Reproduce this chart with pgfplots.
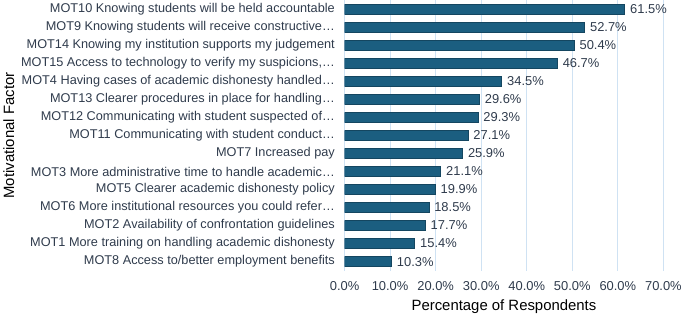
\documentclass[border=0pt]{standalone}
\usepackage{pgfplots}
\pgfplotsset{compat=1.18}
\usepackage{fontspec}
\setmainfont{Liberation Sans}
\definecolor{barc}{HTML}{1B5E80}
\definecolor{gridc}{HTML}{CFE2F3}
\definecolor{txt}{HTML}{2F3B4C}
\begin{document}
\begin{tikzpicture}
\begin{axis}[
  scale only axis, width=321pt, height=272pt,
  xbar, bar width=10pt,
  xmin=0, xmax=70, ymin=-0.5, ymax=14.5,
  xtick={0,10,...,70},
  /pgf/number format/assume math mode=true,
  xticklabel={\pgfmathprintnumber[fixed,fixed zerofill,precision=1]{\tick}\%},
  ytick={0,...,14},
  yticklabels={
    MOT8 Access to/better employment benefits,
    MOT1 More training on handling academic dishonesty,
    MOT2 Availability of confrontation guidelines,
    MOT6 More institutional resources you could refer\ldots,
    MOT5 Clearer academic dishonesty policy,
    MOT3 More administrative time to handle academic\ldots,
    MOT7 Increased pay,
    MOT11 Communicating with student conduct\ldots,
    MOT12 Communicating with student suspected of\ldots,
    MOT13 Clearer procedures in place for handling\ldots,
    MOT4 Having cases of academic dishonesty handled\ldots,
    {MOT15 Access to technology to verify my suspicions,\ldots},
    MOT14 Knowing my institution supports my judgement,
    MOT9 Knowing students will receive constructive\ldots,
    MOT10 Knowing students will be held accountable},
  axis line style={draw=none},
  major tick style={draw=none},
  xmajorgrids,
  major grid style={gridc, line width=0.8pt},
  ticklabel style={text=txt},
  xticklabel style={font=\fontsize{13}{15}\selectfont, yshift=-7pt},
  yticklabel style={font=\fontsize{12.8}{14}\selectfont, xshift=-2pt},
  xlabel={Percentage of Respondents},
  ylabel={Motivational Factor},
  label style={font=\fontsize{15}{17}\selectfont, text=black},
  xlabel style={yshift=-3pt},
  nodes near coords={\pgfmathprintnumber[fixed,fixed zerofill,precision=1]{\pgfplotspointmeta}\%},
  point meta=x,
  nodes near coords style={font=\fontsize{13}{15}\selectfont, text=txt, anchor=west, xshift=2pt},
]
\addplot[fill=barc, draw=barc!75!black] coordinates {
  (10.3,0) (15.4,1) (17.7,2) (18.5,3) (19.9,4) (21.1,5) (25.9,6) (27.1,7)
  (29.3,8) (29.6,9) (34.5,10) (46.7,11) (50.4,12) (52.7,13) (61.5,14)
};
\end{axis}
\end{tikzpicture}
\end{document}
